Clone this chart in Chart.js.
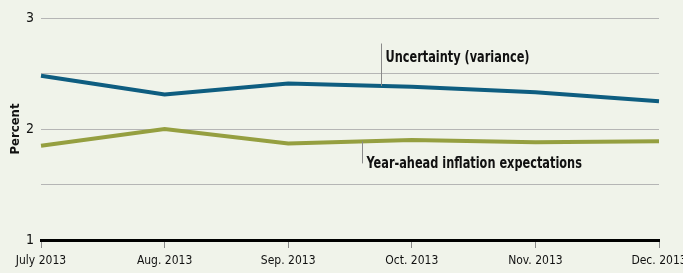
<!DOCTYPE html>
<html>
<head>
<meta charset="utf-8">
<script src="https://cdn.jsdelivr.net/npm/chart.js@4.4.0/dist/chart.umd.min.js"></script>
<style>
  html, body { margin: 0; padding: 0; background: #f0f3ea; }
  #wrap { width: 683px; height: 273px; position: relative; }
</style>
</head>
<body>
<div id="wrap"><canvas id="chart"></canvas></div>
<script>
        const months = ['July 2013', 'Aug. 2013', 'Sep. 2013', 'Oct. 2013', 'Nov. 2013', 'Dec. 2013'];
        const uncertainty = [2.48, 2.31, 2.41, 2.38, 2.33, 2.25];
        const inflationExp = [1.85, 2.0, 1.87, 1.90, 1.88, 1.89];
        const yTicks = [1, 2, 3];

        const FONT = '"DejaVu Sans Condensed", "Liberation Sans", sans-serif';

        // value of a series at a fractional index
        function valueAt(series, x) {
            const i = Math.floor(x);
            const t = x - i;
            return series[i] + (series[i + 1] - series[i]) * t;
        }

        // Labels with leader lines
        const labelPlugin = {
            id: 'seriesLabels',
            afterDatasetsDraw(chart) {
                const ctx = chart.ctx;
                const xs = chart.scales.x;
                const ys = chart.scales.y;
                const notes = [
                    { text: 'Uncertainty (variance)', at: 2.75, series: uncertainty, lineEnd: 2.77, textY: 2.64 },
                    { text: 'Year-ahead inflation expectations', at: 2.6, series: inflationExp, lineEnd: 1.69, textY: 1.68 }
                ];
                notes.forEach(n => {
                    const px = Math.round(xs.getPixelForValue(n.at)) + 0.5;
                    ctx.save();
                    ctx.strokeStyle = '#8a8a8a';
                    ctx.lineWidth = 1;
                    ctx.beginPath();
                    ctx.moveTo(px, ys.getPixelForValue(valueAt(n.series, n.at)));
                    ctx.lineTo(px, ys.getPixelForValue(n.lineEnd));
                    ctx.stroke();
                    // squeeze the text to look condensed
                    ctx.translate(px + 4, ys.getPixelForValue(n.textY));
                    ctx.scale(0.84, 1);
                    ctx.fillStyle = '#111';
                    ctx.font = 'bold 15px ' + FONT;
                    ctx.textAlign = 'left';
                    ctx.textBaseline = 'middle';
                    ctx.fillText(n.text, 0, 0);
                    ctx.restore();
                });
            }
        };

        function initChart() {
            const ctx = document.getElementById('chart').getContext('2d');
            new Chart(ctx, {
                type: 'line',
                data: {
                    labels: months,
                    datasets: [{
                        label: 'Uncertainty (variance)',
                        data: uncertainty,
                        borderColor: '#0e5d80',
                        borderWidth: 4,
                        pointRadius: 0,
                        tension: 0
                    },
                    {
                        label: 'Year-ahead inflation expectations',
                        data: inflationExp,
                        borderColor: '#959f40',
                        borderWidth: 4,
                        pointRadius: 0,
                        tension: 0
                    }]
                },
                options: {
                    responsive: true,
                    maintainAspectRatio: false,
                    animation: false,
                    layout: {
                        padding: { top: 18, right: 24, bottom: 0, left: 0 }
                    },
                    plugins: {
                        legend: { display: false },
                        tooltip: { enabled: false }
                    },
                    scales: {
                        x: {
                            offset: false,
                            afterFit: s => { s.height = 33; s.paddingRight = 0; s.paddingLeft = 0; },
                            border: { color: '#000', width: 3 },
                            grid: {
                                drawOnChartArea: false,
                                drawTicks: true,
                                tickLength: 8,
                                color: '#888'
                            },
                            ticks: {
                                color: '#111',
                                font: { family: FONT, size: 12 },
                                padding: 6,
                                maxRotation: 0,
                                autoSkip: false
                            }
                        },
                        y: {
                            min: 1,
                            max: 3,
                            afterFit: s => { s.width = 41; },
                            border: { display: false },
                            grid: {
                                color: '#b5b5b5',
                                lineWidth: 1,
                                drawTicks: false
                            },
                            ticks: {
                                stepSize: 0.5,
                                color: '#111',
                                padding: 7,
                                font: { family: FONT, size: 14 },
                                callback: v => yTicks.includes(v) ? String(v) : ''
                            },
                            title: {
                                display: true,
                                text: 'Percent',
                                color: '#111',
                                font: { family: FONT, size: 13, weight: 'bold' },
                                padding: { top: 8, bottom: 0 }
                            }
                        }
                    }
                },
                plugins: [labelPlugin]
            });
        }

        window.onload = initChart;
</script>
</body>
</html>
